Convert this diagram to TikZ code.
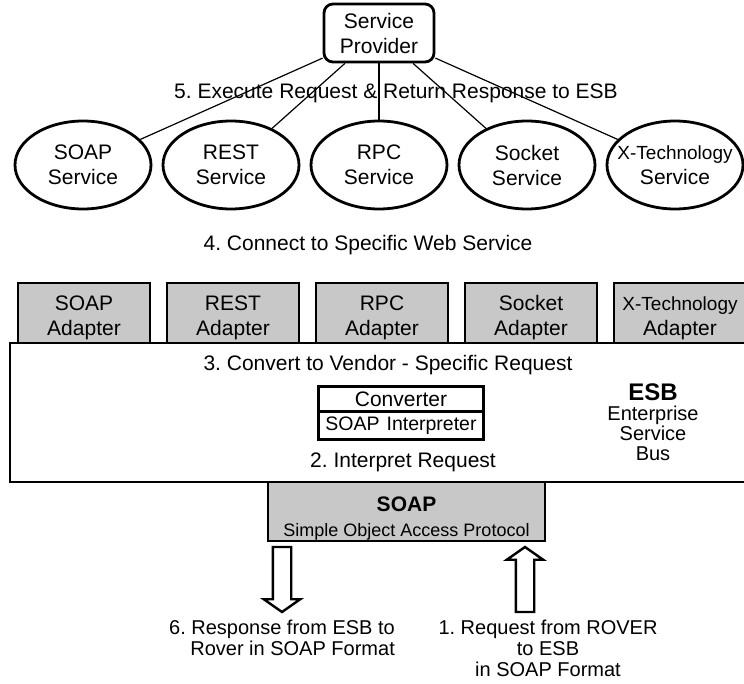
\documentclass[tikz,border=0pt]{standalone}
\usepackage{fontspec}
\setmainfont{Liberation Sans}
\frenchspacing
\usepackage{color}
\definecolor{mygray}{RGB}{200,200,200}
\usepackage{tikz}
\usetikzlibrary{shapes.multipart,shapes.geometric,shapes.arrows,positioning,trees}

\begin{document}
\begin{tikzpicture}[
  x=1pt, y=-1pt,
  font=\fontsize{21}{25}\selectfont,
  level 1/.style={sibling distance=148pt, level distance=132pt},
  edge from parent/.style={draw, line width=1.2pt},
  myprovider/.style={
    draw,
    line width=2.8pt,
    rounded corners=9pt,
    align=center,
    minimum width=110pt,
    minimum height=58pt,
    inner sep=0pt
    },
  myservice/.style={
    draw,
    line width=2.8pt,
    ellipse,
    align=center,
    minimum width=136pt,
    minimum height=88pt,
    inner sep=-12pt
    },
  myadapter/.style={
    draw,
    line width=2.8pt,
    fill=mygray,
    align=center,
    minimum width=132pt,
    minimum height=60pt,
    inner sep=0pt,
    outer sep=0pt
    },
  mybus/.style={
    draw,
    line width=2.8pt,
    fill=white,
    minimum width=750pt,
    minimum height=139pt,
    outer sep=0pt
    },
  myrect/.style={
    draw,
    line width=2.4pt,
    rectangle split,
    rectangle split parts=2,
    text width=161pt,
    align=center,
    inner xsep=2pt,
    inner ysep=4pt
    },
  myarrow/.style={
    draw,
    line width=2.4pt,
    fill=white,
    single arrow,
    single arrow head extend=9pt,
    single arrow tip angle=110,
    minimum height=65pt,
    inner sep=8pt,
    outer sep=0pt
    }
]
\useasboundingbox (0,0) rectangle (744,684);

% providers and the web services below them
\node [myprovider] (sp) at (379,33) {Service\\Provider}
  child {node [myservice] (soapsvc) {SOAP\\Service}}
  child {node [myservice] (restsvc) {REST\\Service}}
  child {node [myservice] (rpcsvc) {RPC\\Service}}
  child {node [myservice] (socketsvc) {Socket\\Service}}
  child {node [myservice] (xtechsvc) {{\fontsize{19}{24}\selectfont X-Technology}\\Service}};

\node (execute) at (396,93) {5. Execute Request \& Return Response to ESB};
\node (connect) at (368,245) {4. Connect to Specific Web Service};

% the bus and its adapters
\node [mybus, anchor=north west] (esb) at (10,343) {};
\node [myadapter, above right=0pt and 8pt of esb.north west] (soapad) {\rule{0pt}{25pt}SOAP\\Adapter};
\node [myadapter, right=17pt of soapad] (restad) {\rule{0pt}{25pt}REST\\Adapter};
\node [myadapter, right=17pt of restad] (rpcad) {\rule{0pt}{25pt}RPC\\Adapter};
\node [myadapter, right=17pt of rpcad] (socketad) {\rule{0pt}{25pt}Socket\\Adapter};
\node [myadapter, right=17pt of socketad] (xtechad)
  {\rule{0pt}{25pt}{\fontsize{19}{25}\selectfont X-Technology}\\Adapter};

\node (convert) at (388,365) {3. Convert to Vendor - Specific Request};
\node [myrect] (conv) at (401,413)
  {Converter\nodepart{two}{\fontsize{19.5}{20}\selectfont SOAP Interpreter}};
\node (interpret) at (403,462) {2. Interpret Request};
\node [align=center, font=\fontsize{20}{20}\selectfont] (esblabel) at (653,422)
  {{\fontsize{24}{24}\selectfont\bfseries ESB}\\Enterprise\\Service\\Bus};

% soap entry point
\node [myadapter, minimum width=277pt, minimum height=59pt,
  below right=0pt and 258pt of esb.south west] (soap)
  {\rule{0pt}{29pt}\textbf{SOAP}\\{\fontsize{18}{25}\selectfont Simple Object Access Protocol}};

\node [myarrow, shape border rotate=270, below=6pt of soap.south west, xshift=14pt] (outarr) {};
\node [myarrow, shape border rotate=90, below=6pt of soap.south east, xshift=-20pt] (inarr) {};

\node [below=4pt of outarr, align=right, font=\fontsize{20}{21}\selectfont] (resp)
  {6. Response from ESB to\\Rover in SOAP Format};
\node [below=4pt of inarr, xshift=23pt, align=center, font=\fontsize{20}{21}\selectfont] (req)
  {1. Request from ROVER\\to ESB\\in SOAP Format};

\end{tikzpicture}
\end{document}
